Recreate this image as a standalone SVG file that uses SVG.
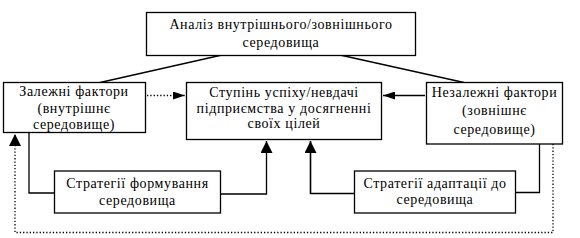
<svg xmlns="http://www.w3.org/2000/svg" width="580" height="238" viewBox="0 0 580 238">
<style>
.box{fill:#fff;stroke:#000;stroke-width:1.3}
.t{font-family:"Liberation Serif","Times New Roman",serif;font-size:14px;letter-spacing:0.6px;fill:#000;text-anchor:middle}
.ln{fill:none;stroke:#000;stroke-width:1.3}
.dot{fill:none;stroke:#000;stroke-width:1.3;stroke-dasharray:1.3,2}
</style>
<defs>
<marker id="ah" markerUnits="userSpaceOnUse" markerWidth="12" markerHeight="8" refX="12" refY="4" orient="auto"><path d="M0,0 L12,4 L0,8 z" fill="#000"/></marker>
<marker id="av" markerUnits="userSpaceOnUse" markerWidth="12" markerHeight="12" refX="12" refY="6" orient="auto"><path d="M0,0 L12,6 L0,12 z" fill="#000"/></marker>
</defs>
<rect width="580" height="238" fill="#fff"/>
<g id="connectors">
<line class="ln" x1="222" y1="55" x2="100" y2="82.5"/>
<line class="ln" x1="340" y1="55" x2="464" y2="82.5"/>
<line class="dot" x1="147" y1="95.5" x2="185" y2="95.5" marker-end="url(#ah)"/>
<line class="ln" x1="425" y1="95.5" x2="383" y2="95.5" marker-end="url(#ah)"/>
<polyline class="ln" points="29,132.5 29,193 54,193"/>
<polyline class="ln" points="220,194 266.5,194 266.5,141" marker-end="url(#av)"/>
<polyline class="ln" points="354,193.5 310.5,193.5 310.5,141" marker-end="url(#av)" style="stroke-width:1.6"/>
<polyline class="ln" points="539.5,144 539.5,192.5 515,192.5"/>
<polyline class="dot" points="553,144 553,232.5 15,232.5 15,134" marker-end="url(#av)"/>
</g>
<g id="top">
<rect class="box" x="146.5" y="12.5" width="269" height="43"/>
<text class="t" x="281" y="29">Аналіз внутрішнього/зовнішнього</text>
<text class="t" x="281" y="46.5">середовища</text>
</g>
<g id="dependent">
<rect class="box" x="3.5" y="82.5" width="142" height="50"/>
<text class="t" x="74" y="96">Залежні фактори</text>
<text class="t" x="74" y="113">(внутрішнє</text>
<text class="t" x="74" y="129">середовище)</text>
</g>
<g id="center">
<rect class="box" x="186.5" y="82.5" width="195" height="57"/>
<text class="t" x="284" y="97">Ступінь успіху/невдачі</text>
<text class="t" x="284" y="113">підприємства у досягненні</text>
<text class="t" x="284" y="128">своїх цілей</text>
</g>
<g id="independent">
<rect class="box" x="426.5" y="82.5" width="136" height="61.5"/>
<text class="t" x="494.5" y="97">Незалежні фактори</text>
<text class="t" x="494.5" y="115">(зовнішнє</text>
<text class="t" x="494.5" y="134">середовище)</text>
</g>
<g id="strategy-form">
<rect class="box" x="54.5" y="171" width="166" height="42"/>
<text class="t" x="137.5" y="188">Стратегії формування</text>
<text class="t" x="137.5" y="205">середовища</text>
</g>
<g id="strategy-adapt">
<rect class="box" x="354.5" y="171" width="161" height="42"/>
<text class="t" x="435" y="187.5">Стратегії адаптації до</text>
<text class="t" x="435" y="204">середовища</text>
</g>
</svg>
